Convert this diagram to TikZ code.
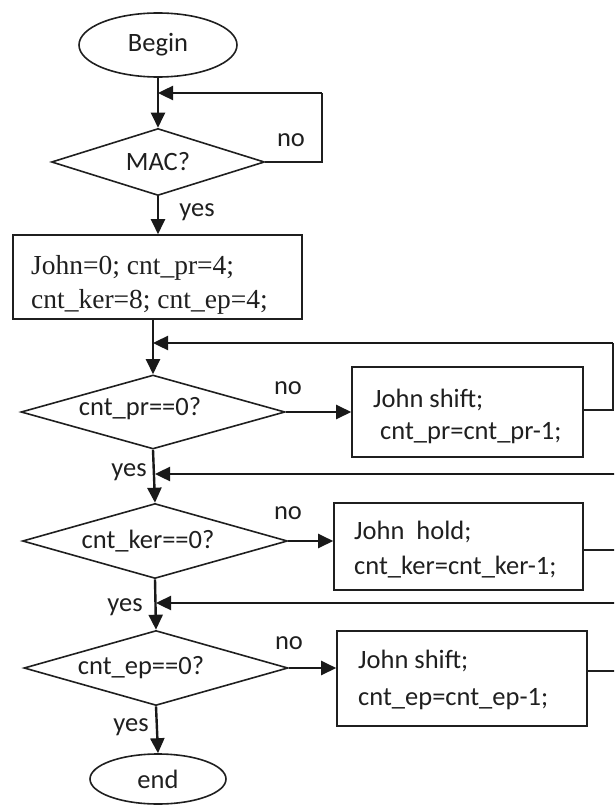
\documentclass[tikz,border=0pt]{standalone}
\usepackage{fontspec}
\setmainfont{Carlito}
\newfontfamily\serifbox{Liberation Serif}
\usetikzlibrary{shapes.geometric,arrows.meta}
\begin{document}
\begin{tikzpicture}[x=1pt,y=-1pt,
  font=\fontsize{26.5}{30}\selectfont,
  shapeline/.style={draw=black!88, line width=1.6pt},
  term/.style={shapeline, ellipse, inner sep=0pt},
  decision/.style={shapeline, diamond, inner sep=0pt},
  procbox/.style={shapeline, rectangle, inner sep=0pt},
  flow/.style={draw=black!90, line width=2.4pt, -{Triangle[length=15pt,width=14pt]}},
  loopline/.style={draw=black!88, line width=1.6pt},
  txt/.style={inner sep=0pt, text=black!88},
  boxtxt/.style={inner sep=0pt, text=black!88, anchor=west, align=left},
]
\useasboundingbox (0,0) rectangle (614,805);
\clip (0,0) rectangle (614,805);

% shapes
\node[term, minimum width=158pt, minimum height=64pt, text=black!88] (begin) at (158,45) {Begin};
\node[decision, minimum width=213pt, minimum height=67pt] (d1) at (158,162) {};
\node[txt] (d1t) at (158,162) {MAC?};

\node[procbox, minimum width=289pt, minimum height=84pt] (b1) at (157.5,277) {};
\node[boxtxt, font=\serifbox\fontsize{27.5}{34}\selectfont] (b1t) at (31,285) {John=0; cnt\_pr=4;\\cnt\_ker=8; cnt\_ep=4;};

\node[decision, minimum width=264pt, minimum height=74pt] (d2) at (153,412) {};
\node[txt] (d2t) at (140,409) {cnt\_pr==0?};
\node[procbox, minimum width=231pt, minimum height=90pt] (b2) at (467.5,412) {};
\node[boxtxt, font=\fontsize{26.5}{32}\selectfont] (b2t) at (373,416) {John shift;\\\hspace{7pt}cnt\_pr=cnt\_pr-1;};

\node[decision, minimum width=265pt, minimum height=75pt] (d3) at (155,541) {};
\node[txt] (d3t) at (148,541) {cnt\_ker==0?};
\node[procbox, minimum width=249pt, minimum height=87pt] (b3) at (458.5,546.5) {};
\node[boxtxt, font=\fontsize{26.5}{35}\selectfont] (b3t) at (354,550) {John\ \ hold;\\cnt\_ker=cnt\_ker-1;};

\node[decision, minimum width=264pt, minimum height=75pt] (d4) at (156,668) {};
\node[txt] (d4t) at (141,668) {cnt\_ep==0?};
\node[procbox, minimum width=250pt, minimum height=95pt] (b4) at (462,678.5) {};
\node[boxtxt, font=\fontsize{26.5}{37}\selectfont] (b4t) at (358,680) {John shift;\\cnt\_ep=cnt\_ep-1;};

\node[term, minimum width=136pt, minimum height=50pt, text=black!88] (end) at (158,779) {end};

% labels
\node[txt] (no1) at (291,140) {no};
\node[txt] (no2) at (288,388) {no};
\node[txt] (no3) at (288,513) {no};
\node[txt] (no4) at (289,643) {no};
\node[txt] (yes1) at (197,212) {yes};
\node[txt] (yes2) at (129,472) {yes};
\node[txt] (yes3) at (125,607) {yes};
\node[txt] (yes4) at (131,727) {yes};

% loop corner coordinates
\coordinate (l1a) at (322,162);
\coordinate (l1b) at (322,93);
\coordinate (l2a) at (613,410);
\coordinate (l2b) at (613,343);
\coordinate (l3a) at (622,550);
\coordinate (l3b) at (622,474);
\coordinate (l4a) at (622,671);
\coordinate (l4b) at (622,603);

% main flow
\draw[flow] (begin.south) -- (d1.north);
\draw[flow] (d1.south) -- (d1.south |- b1.north);
\draw[flow] (d2.north |- b1.south) -- (d2.north);
\draw[flow] (d2.south) -- (d3.north);
\draw[flow] (d3.south) -- (d4.north);
\draw[flow] (d4.south) -- (end.north);

% no branches
\draw[flow] (d2.east) -- (d2.east -| b2.west);
\draw[flow] (d3.east) -- (d3.east -| b3.west);
\draw[flow] (d4.east) -- (d4.east -| b4.west);

% loops
\draw[loopline] (d1.east) -- (l1a) -- (l1b);
\draw[flow] (l1b) -- (begin.south |- l1b);
\draw[loopline] (b2.east |- l2a) -- (l2a) -- (l2b);
\draw[flow] (l2b) -- (d2.north |- l2b);
\draw[loopline] (b3.east |- l3a) -- (l3a) -- (l3b);
\draw[flow] (l3b) -- (d3.north |- l3b);
\draw[loopline] (b4.east |- l4a) -- (l4a) -- (l4b);
\draw[flow] (l4b) -- (d4.north |- l4b);
\end{tikzpicture}
\end{document}
